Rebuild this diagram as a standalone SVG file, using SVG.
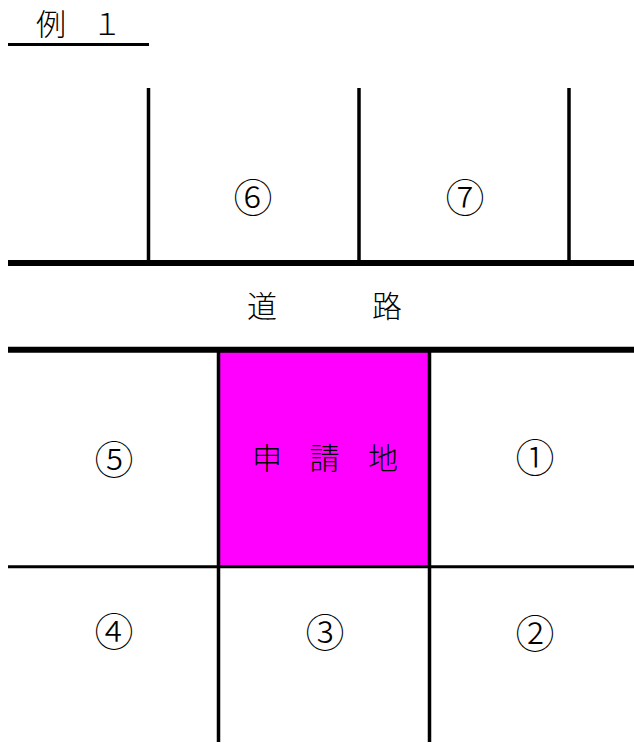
<svg xmlns="http://www.w3.org/2000/svg" width="634" height="743" viewBox="0 0 634 743">
<style>
.t{font-family:"Noto Sans CJK JP","Noto Sans",sans-serif;font-size:30px;font-weight:300;fill:#000;text-anchor:middle}
.n{font-family:"Noto Sans CJK JP","Noto Sans",sans-serif;font-size:39px;font-weight:300;fill:#000;text-anchor:middle}
.ln{stroke:#000;fill:none}
.thin{stroke-width:3.5}
.thick{stroke-width:6}
</style>
<rect width="634" height="743" fill="#fff"/>
<g id="title">
<text class="t" y="34.5"><tspan x="51">例</tspan><tspan x="107">１</tspan></text>
<line class="ln" x1="8" y1="44.5" x2="149" y2="44.5" stroke-width="3"/>
</g>
<g id="site">
<rect x="218.5" y="350" width="211" height="216.5" fill="#ff00ff"/>
<text class="t" y="469"><tspan x="267">申</tspan><tspan x="324.5">請</tspan><tspan x="383">地</tspan></text>
</g>
<g id="road">
<text class="t" y="316.5"><tspan x="262">道</tspan><tspan x="387">路</tspan></text>
</g>
<g id="lot6"><text class="n" x="253" y="211.5">⑥</text></g>
<g id="lot7"><text class="n" x="465" y="211.5">⑦</text></g>
<g id="lot5"><text class="n" x="114" y="474">⑤</text></g>
<g id="lot1"><text class="n" x="535" y="472">①</text></g>
<g id="lot4"><text class="n" x="114" y="645.5">④</text></g>
<g id="lot3"><text class="n" x="325" y="647">③</text></g>
<g id="lot2"><text class="n" x="535" y="648">②</text></g>
<g id="connectors">
<line class="ln thin" x1="148.5" y1="88" x2="148.5" y2="263"/>
<line class="ln thin" x1="359" y1="88" x2="359" y2="263"/>
<line class="ln thin" x1="569" y1="88" x2="569" y2="263"/>
<line class="ln thick" x1="8" y1="263" x2="634" y2="263"/>
<line class="ln thick" x1="8" y1="349.7" x2="634" y2="349.7"/>
<line class="ln thin" x1="218.5" y1="350" x2="218.5" y2="742"/>
<line class="ln thin" x1="429.5" y1="350" x2="429.5" y2="742"/>
<line class="ln" stroke-width="3" x1="8" y1="566.7" x2="634" y2="566.7"/>
</g>
</svg>
